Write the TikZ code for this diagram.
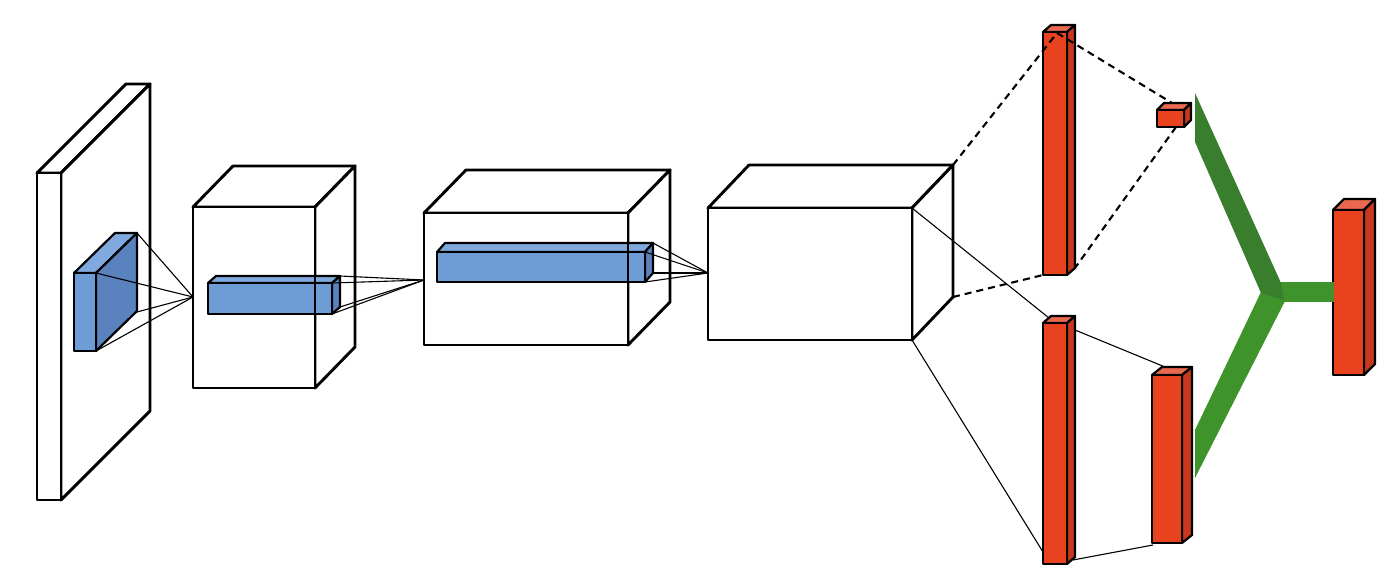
\documentclass[tikz,border=0pt]{standalone}
\usetikzlibrary{calc}
\definecolor{redfront}{RGB}{233,66,30}
\definecolor{redtop}{RGB}{232,104,80}
\definecolor{redside}{RGB}{200,55,30}
\definecolor{bluefront}{RGB}{110,157,214}
\definecolor{bluetop}{RGB}{128,170,222}
\definecolor{blueside}{RGB}{90,130,190}
\definecolor{greendark}{RGB}{57,126,45}
\definecolor{greenlight}{RGB}{62,148,42}
\newcommand{\cuboid}[9]{%
  \filldraw[fill=#8] (#1,#2) -- ({#1+#5},{#2+#6}) -- ({#3+#5},{#2+#6}) -- (#3,#2) -- cycle;
  \filldraw[fill=#9] (#3,#2) -- ({#3+#5},{#2+#6}) -- ({#3+#5},{#4+#6}) -- (#3,#4) -- cycle;
  \filldraw[fill=#7] (#1,#2) rectangle (#3,#4);
}
\tikzset{
  boxline/.style={line width=2.9pt, line join=round},
  barline/.style={line width=2.2pt, line join=round},
  thinline/.style={line width=1.1pt},
  dashline/.style={line width=2.1pt, dash pattern=on 7pt off 5pt},
}
\begin{document}
\begin{tikzpicture}[x=1pt,y=-1pt]
\fill[white] (0,0) rectangle (1396,583);
\useasboundingbox (0,0) rectangle (1396,583);

% input plane
\begin{scope}[boxline]
\cuboid{37}{173}{61}{500}{89}{-89}{white}{white}{white}
\end{scope}
% kernel
\begin{scope}[barline]
\cuboid{74}{273}{96}{351}{41}{-40}{bluefront}{bluetop}{blueside}
\end{scope}
\coordinate (c1) at (193,297);
\coordinate (k1a) at (96,273);
\coordinate (k1b) at (96,351);
\coordinate (k1c) at (137,233);
\coordinate (k1d) at (137,312);
\foreach \p in {k1a,k1b,k1c,k1d} \draw[thinline] (\p) -- (c1);

% box 2
\begin{scope}[boxline]
\cuboid{193}{207}{315}{388}{40}{-41}{white}{white}{white}
\end{scope}
\begin{scope}[barline]
\cuboid{208}{283}{332}{314}{8}{-7}{bluefront}{bluetop}{blueside}
\end{scope}
\draw[boxline] (315,207) -- (315,388);
\coordinate (c2) at (424,280);
\coordinate (k2a) at (332,283);
\coordinate (k2b) at (332,314);
\coordinate (k2c) at (340,276);
\coordinate (k2d) at (340,307);
\foreach \p in {k2a,k2b,k2c,k2d} \draw[thinline] (\p) -- (c2);

% box 3
\begin{scope}[boxline]
\cuboid{424}{213}{628}{345}{42}{-43}{white}{white}{white}
\end{scope}
\begin{scope}[barline]
\cuboid{437}{252}{645}{282}{8}{-9}{bluefront}{bluetop}{blueside}
\end{scope}
\draw[boxline] (628,213) -- (628,345);
\coordinate (c3) at (708,273);
\coordinate (k3a) at (645,252);
\coordinate (k3b) at (645,282);
\coordinate (k3c) at (653,243);
\coordinate (k3d) at (653,273);
\foreach \p in {k3a,k3b,k3c,k3d} \draw[thinline] (\p) -- (c3);

% box 4
\begin{scope}[boxline]
\cuboid{708}{208}{912}{340}{41}{-43}{white}{white}{white}
\end{scope}
\coordinate (b4tf) at (912,208);
\coordinate (b4bf) at (912,340);
\coordinate (b4tb) at (953,165);
\coordinate (b4bb) at (953,297);

% solid connectors to lower branch
\coordinate (r2top) at (1049,318);
\coordinate (r2bot) at (1043,552);
\coordinate (r2rt) at (1075,330);
\coordinate (r2rb) at (1073,560);
\coordinate (r3top) at (1165,367);
\coordinate (r3bot) at (1153,545);
\draw[thinline] (b4tf) -- (r2top);
\draw[thinline] (b4bf) -- (r2bot);
\draw[thinline] (r2rt) -- (r3top);
\draw[thinline] (r2rb) -- (r3bot);

% red bars
\begin{scope}[barline]
\cuboid{1043}{32}{1067}{275}{8}{-7}{redfront}{redtop}{redside}
\cuboid{1043}{323}{1067}{564}{8}{-7}{redfront}{redtop}{redside}
\cuboid{1152}{375}{1182}{543}{10}{-8}{redfront}{redtop}{redside}
\cuboid{1157}{110}{1184}{127}{7}{-7}{redfront}{redtop}{redside}
\cuboid{1333}{210}{1364}{375}{11}{-11}{redfront}{redtop}{redside}
\end{scope}

% dashed connectors to upper branch
\coordinate (r1top) at (1057,33);
\coordinate (r1bl) at (1043,275);
\coordinate (r1br) at (1075,268);
\coordinate (cubet) at (1172,103);
\coordinate (cubeb) at (1176,127);
\draw[dashline] (b4tb) -- (r1top);
\draw[dashline] (r1top) -- (cubet);
\draw[dashline] (b4bb) -- (r1bl);
\draw[dashline] (cubeb) -- (r1br);

% green Y
\fill[greenlight] (1268,282) rectangle (1334,302);
\fill[greenlight] (1261,292) -- (1285,301) -- (1195,478) -- (1195,430) -- cycle;
\fill[greendark] (1195,93) -- (1281,283) -- (1284,300) -- (1261,293) -- (1195,142) -- cycle;
\end{tikzpicture}
\end{document}
